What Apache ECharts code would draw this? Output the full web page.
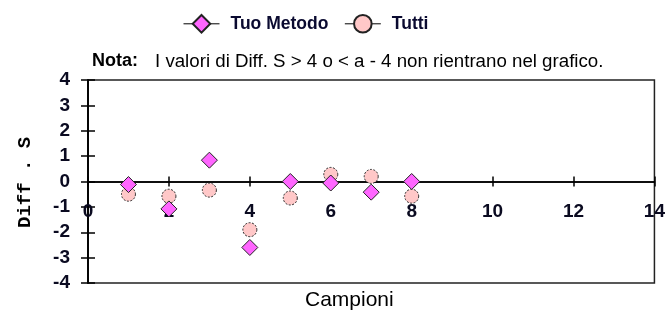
<!DOCTYPE html>
<html lang="it">
<head>
<meta charset="UTF-8">
<title>Diff. S</title>
<script src="https://cdn.jsdelivr.net/npm/echarts@6/dist/echarts.min.js"></script>
<style>
  html, body { margin: 0; padding: 0; background: #fff; }
  #chart { width: 668px; height: 314px; }
</style>
</head>
<body>
<div id="chart"></div>
<script>
// campioni e valori
const campioni = [1, 2, 3, 4, 5, 6, 7, 8];
const tuoMetodo = [-0.12, -1.08, 0.84, -2.6, 0.0, -0.06, -0.42, 0.0];
const tutti = [-0.5, -0.58, -0.34, -1.9, -0.65, 0.28, 0.2, -0.58];
const yTicks = [-4, -3, -2, -1, 0, 1, 2, 3, 4];
const xTicks = [0, 2, 4, 6, 8, 10, 12, 14];

const font = '"Liberation Sans", Arial, sans-serif';
const W = 668, H = 314;
const gridTop = 80, gridBottom = 31;
let chart = echarts.init(document.getElementById('chart'));

function pairs(ys) {
    return campioni.map((x, i) => [x, ys[i]]);
}

// the x axis crosses the y axis at 0: move it up from the bottom edge of the grid
const yMin = yTicks[0], yMax = yTicks[yTicks.length - 1];
const zeroOffset = -(0 - yMin) / (yMax - yMin) * (H - gridTop - gridBottom);

let yBase = {
    type: 'value',
    min: yMin,
    max: yMax,
    interval: 1,
    splitLine: { show: false },
    axisLine: { show: true, onZero: false, lineStyle: { color: '#000', width: 1.5 } }
};
let xBase = {
    type: 'value',
    position: 'bottom',
    offset: zeroOffset,
    min: xTicks[0],
    max: xTicks[xTicks.length - 1],
    interval: 2,
    splitLine: { show: false },
    axisLine: { show: true, onZero: false, lineStyle: { color: '#000', width: 1.5 } }
};

let option = {
    animation: false,
    grid: {
        left: 88, right: 7, top: gridTop, bottom: gridBottom,
        show: true, borderColor: '#222', borderWidth: 1.5
    },
    legend: {
        left: 178, top: 9,
        itemWidth: 36, itemHeight: 22, itemGap: 16,
        textStyle: {
            fontFamily: font, fontWeight: 'bold', fontSize: 17.5, color: '#0a0a30',
            padding: [0, 0, 0, 6]
        },
        lineStyle: { opacity: 1, color: '#000', width: 1 },
        data: ['Tuo Metodo', 'Tutti']
    },
    xAxis: [
        Object.assign({}, xBase, {
            axisTick: { show: true, inside: false, length: 5, lineStyle: { color: '#000', width: 1.5 } },
            axisLabel: {
                show: true, margin: 21, showMaxLabel: true, showMinLabel: true,
                fontFamily: font, fontWeight: 'bold', fontSize: 19, color: '#0a0a20'
            }
        }),
        Object.assign({}, xBase, {
            axisTick: { show: true, inside: true, length: 5, lineStyle: { color: '#000', width: 1.5 } },
            axisLabel: { show: false }
        })
    ],
    yAxis: [
        Object.assign({}, yBase, {
            axisTick: { show: true, inside: false, length: 7, lineStyle: { color: '#000', width: 1.5 } },
            axisLabel: {
                margin: 18, fontFamily: font, fontWeight: 'bold', fontSize: 19, color: '#0a0a20'
            }
        }),
        Object.assign({}, yBase, {
            position: 'left',
            axisTick: { show: true, inside: true, length: 7, lineStyle: { color: '#000', width: 1.5 } },
            axisLabel: { show: false }
        })
    ],
    graphic: [
        {
            type: 'text', left: 92, top: 52,
            style: { text: 'Nota:', font: 'bold 18px ' + font, fill: '#000' }
        },
        {
            type: 'text', left: 155, top: 52,
            style: { text: 'I valori di Diff. S > 4 o < a - 4 non rientrano nel grafico.', font: '18.7px ' + font, fill: '#000' }
        },
        {
            type: 'text', x: 16, y: 228, rotation: Math.PI / 2,
            style: { text: 'Diff . S', font: 'bold 19px "Liberation Mono", "Courier New", monospace', fill: '#000' }
        },
        {
            type: 'text', left: 305, top: 290,
            style: { text: 'Campioni', font: '21px ' + font, fill: '#000' }
        }
    ],
    series: [
        {
            name: 'Tutti',
            type: 'line',
            data: pairs(tutti),
            symbol: 'circle',
            symbolSize: 14,
            showSymbol: true,
            lineStyle: { opacity: 0 },
            itemStyle: { color: '#ffc8c8', borderColor: '#222', borderWidth: 1, borderType: [2, 1.5] },
            z: 3
        },
        {
            name: 'Tuo Metodo',
            type: 'line',
            data: pairs(tuoMetodo),
            symbol: 'diamond',
            symbolSize: 16,
            showSymbol: true,
            lineStyle: { opacity: 0 },
            itemStyle: { color: '#ff66ff', borderColor: '#222', borderWidth: 1 },
            z: 4
        }
    ]
};

chart.setOption(option);
</script>
</body>
</html>
